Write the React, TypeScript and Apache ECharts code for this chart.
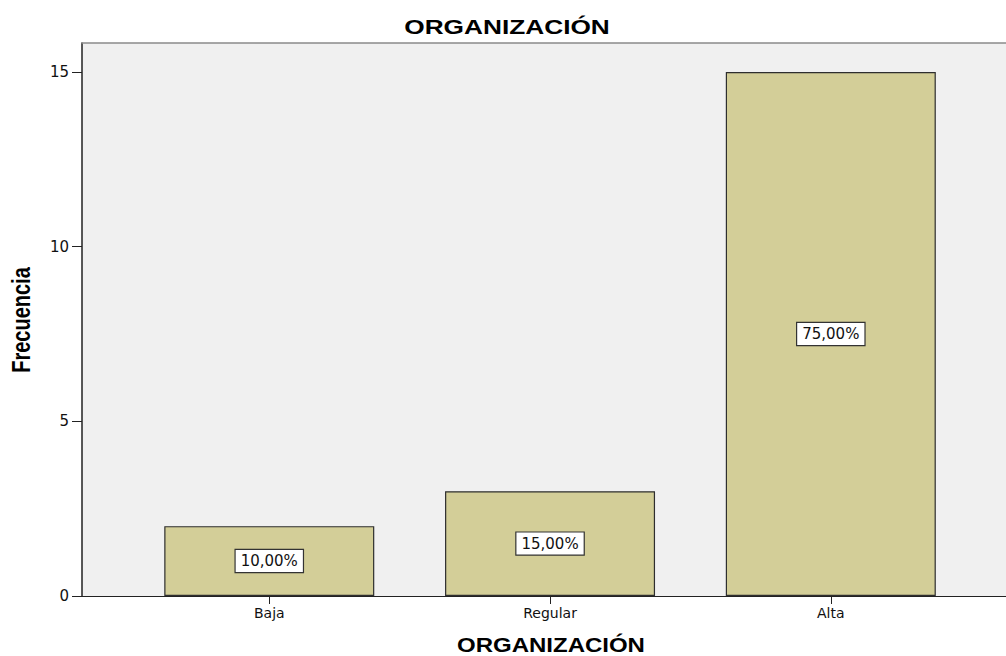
import React, { useEffect, useRef } from "react";
import * as echarts from "echarts";

const categories = ["Baja", "Regular", "Alta"];
const frequencies = [2, 3, 15];
const percentages = ["10,00%", "15,00%", "75,00%"];
const yTicks = [0, 5, 10, 15];
const titleText = "ORGANIZACIÓN";
const xAxisTitle = "ORGANIZACIÓN";
const yAxisTitle = "Frecuencia";

export default function App() {
  const ref = useRef<HTMLDivElement>(null);
  useEffect(() => {
    if (!ref.current) return;
    const chart = echarts.init(ref.current, null, { renderer: "svg" });
    const small = "DejaVu Sans";
    const catIdx = categories.map((_, i) => i);
    chart.setOption({
      animation: false,
      backgroundColor: "#ffffff",
      grid: {
        left: 82,
        top: 43,
        right: 0,
        height: 553,
        show: true,
        backgroundColor: "#f0f0f0",
        borderWidth: 0,
      },
      xAxis: [
        {
          type: "value",
          min: -0.667,
          max: 2.624,
          splitLine: { show: false },
          axisLine: { show: true, onZero: false, lineStyle: { color: "#222", width: 1 } },
          axisTick: { show: true, length: 8, customValues: catIdx, lineStyle: { color: "#222" } },
          axisLabel: {
            customValues: catIdx,
            formatter: (v: number) => categories[Math.round(v)] ?? "",
            fontFamily: small,
            fontSize: 14,
            color: "#111",
            margin: 10,
          },
        },
        {
          type: "value",
          position: "top",
          min: -0.667,
          max: 2.624,
          splitLine: { show: false },
          axisLine: { show: true, onZero: false, lineStyle: { color: "#8a8a8a", width: 1.5 } },
          axisTick: { show: false },
          axisLabel: { show: false },
        },
      ],
      yAxis: {
        type: "value",
        min: 0,
        max: 15.83,
        splitLine: { show: false },
        axisLine: { show: true, onZero: false, lineStyle: { color: "#222", width: 1.5 } },
        axisTick: { show: true, length: 10, customValues: yTicks, lineStyle: { color: "#222" } },
        axisLabel: {
          customValues: yTicks,
          fontFamily: small,
          fontSize: 15,
          color: "#111",
          margin: 13,
        },
      },
      graphic: [
        {
          type: "text",
          x: 507,
          y: 26,
          scaleX: 1.25,
          style: {
            text: titleText,
            font: 'bold 21px "Liberation Sans"',
            fill: "#000",
            textAlign: "center",
            textVerticalAlign: "middle",
          },
        },
        {
          type: "text",
          x: 551,
          y: 645,
          scaleX: 1.2,
          style: {
            text: xAxisTitle,
            font: 'bold 20px "Liberation Sans"',
            fill: "#000",
            textAlign: "center",
            textVerticalAlign: "middle",
          },
        },
        {
          type: "text",
          x: 21,
          y: 320,
          rotation: Math.PI / 2,
          scaleY: 1.3,
          style: {
            text: yAxisTitle,
            font: 'bold 20px "Liberation Sans"',
            fill: "#000",
            textAlign: "center",
            textVerticalAlign: "middle",
          },
        },
      ],
      series: [
        {
          type: "bar",
          xAxisIndex: 0,
          barWidth: 210,
          data: categories.map((_, i) => [i, frequencies[i]]),
          itemStyle: { color: "#d3ce98", borderColor: "#2e2e2e", borderWidth: 1.2 },
          label: {
            show: true,
            position: "inside",
            formatter: (p: any) => percentages[p.dataIndex],
            fontFamily: small,
            fontSize: 15,
            color: "#111",
            backgroundColor: "#ffffff",
            borderColor: "#333",
            borderWidth: 1.2,
            padding: [4, 5, 3, 5],
          },
        },
      ],
    });
    return () => chart.dispose();
  }, []);
  return (
    <div
      ref={ref}
      style={{ position: "fixed", left: 0, top: 0, width: 1006, height: 656, background: "#fff" }}
    />
  );
}
